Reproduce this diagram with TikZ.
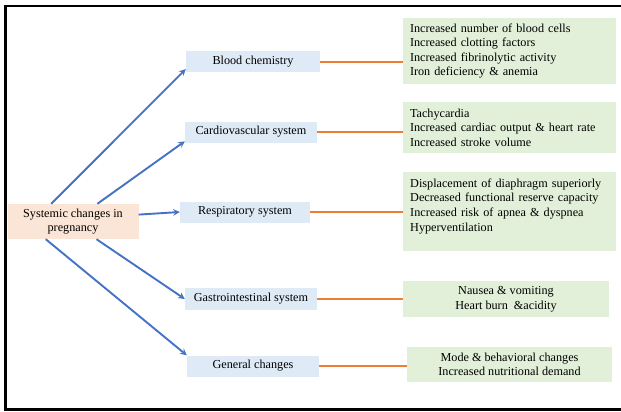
\documentclass[tikz,border=0pt]{standalone}
\usepackage{fontspec}
\setmainfont{Liberation Serif}
\definecolor{boxpeach}{HTML}{FBE5D6}
\definecolor{boxblue}{HTML}{DEEBF7}
\definecolor{boxgreen}{HTML}{E2F0D9}
\definecolor{arrowblue}{HTML}{4472C4}
\definecolor{lineorange}{HTML}{ED7D31}
\begin{document}
\begin{tikzpicture}[x=1pt,y=-1pt,
  font=\fontsize{12.2}{14.6}\selectfont,
  sysbox/.style={fill=boxblue, inner sep=0pt, minimum height=21pt},
  listbox/.style={fill=boxgreen, inner sep=0pt, align=left, text width=199pt, minimum width=213pt},
  shortlist/.style={fill=boxgreen, inner sep=0pt, align=center, minimum height=35pt},
  spoke/.style={->, >=stealth, arrowblue, line width=1.9pt},
  link/.style={lineorange, line width=2pt}]
\useasboundingbox (0,0) rectangle (621,412);
\draw[line width=2.8pt] (640,6) -- (5.5,6) -- (5.5,409.5) -- (640,409.5);

\node[fill=boxpeach, inner sep=0pt, minimum width=131pt, minimum height=35pt, align=center] (root) at (73,221.5) {Systemic changes in\\pregnancy};

\node[sysbox, minimum width=134pt] (blood) at (253,62) {Blood chemistry};
\node[sysbox, minimum width=132pt] (cardio) at (251,132) {Cardiovascular system};
\node[sysbox, minimum width=130pt] (resp) at (245,212) {Respiratory system};
\node[sysbox, minimum width=132pt, minimum height=22pt] (gi) at (251,299) {Gastrointestinal system};
\node[sysbox, minimum width=132pt] (general) at (253,366) {General changes};

\node[listbox, minimum height=66pt] (bloodlist) at (509.5,51) {Increased number of blood cells\\Increased clotting factors\\Increased fibrinolytic activity\\Iron deficiency \& anemia};
\node[listbox, minimum height=51pt] (cardiolist) at (509.5,127.5) {Tachycardia\\Increased cardiac output \& heart rate\\Increased stroke volume};
\node[listbox, anchor=north west, inner xsep=7pt, text height=15pt, text depth=64pt] (resplist) at (403,172) {Displacement of diaphragm superiorly\\Decreased functional reserve capacity\\Increased risk of apnea \& dyspnea\\Hyperventilation};
\node[shortlist, minimum width=206pt, minimum height=36pt] (gilist) at (506,299) {Nausea \& vomiting\\Heart burn~ \&acidity};
\node[shortlist, minimum width=205pt] (genlist) at (509.5,364.5) {Mode \& behavioral changes\\Increased nutritional demand};

\draw[spoke] (root.141.5) -- (blood.186);
\draw[spoke] (root.36) -- (cardio.188);
\draw[spoke] (root.6.5) -- (resp.west);
\draw[spoke] (root.-37) -- (gi.west);
\draw[spoke] (root.-147) -- (general.north west);

\draw[link] (blood.east) -- (blood.east -| bloodlist.west);
\draw[link] (cardio.east) -- (cardio.east -| cardiolist.west);
\draw[link] (resp.east) -- (resp.east -| resplist.west);
\draw[link] (gi.east) -- (gi.east -| gilist.west);
\draw[link] (general.east) -- (general.east -| genlist.west);
\end{tikzpicture}
\end{document}
